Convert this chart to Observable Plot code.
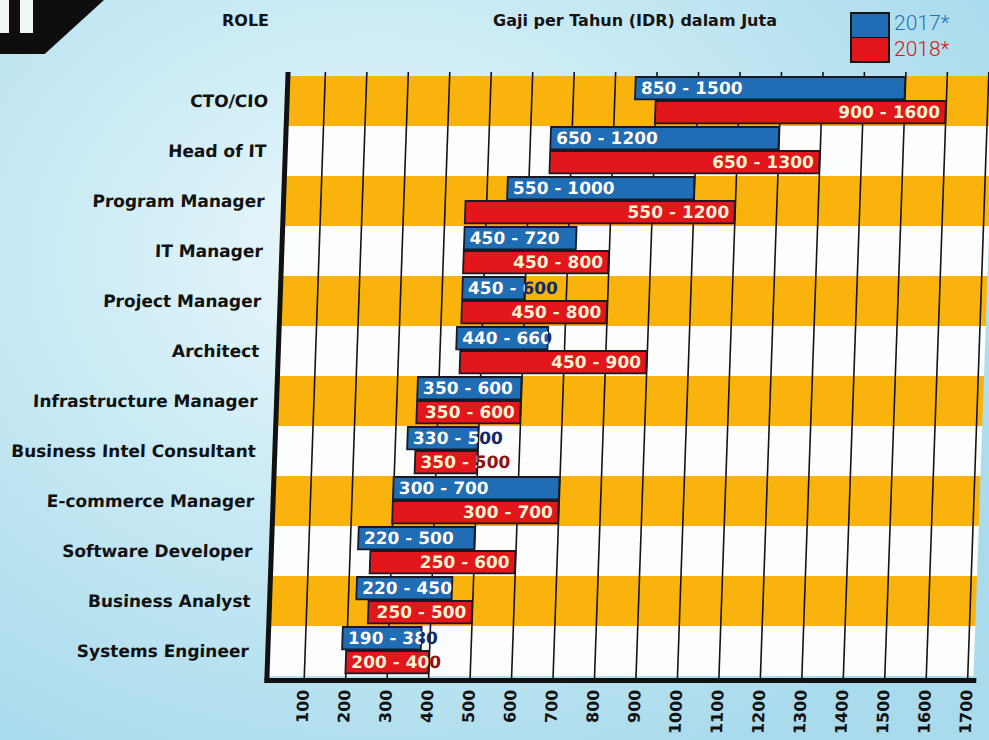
<!DOCTYPE html>
<html>
<head>
<meta charset="utf-8">
<script src="https://cdn.jsdelivr.net/npm/d3@7"></script>
<script src="https://cdn.jsdelivr.net/npm/@observablehq/plot@0.6"></script>
<style>
  html, body { margin: 0; padding: 0; }
  body {
    width: 989px; height: 740px; overflow: hidden; position: relative;
    background: radial-gradient(ellipse 70% 75% at 38% 35%, #eef9fc 0%, #cbebf5 45%, #aadbec 100%);
    font-family: "DejaVu Sans", sans-serif;
  }
  #tab { position: absolute; left: 0; top: 0; width: 104px; height: 54px; background: #0e0e0e;
         clip-path: polygon(0 0, 100% 0, 43% 100%, 0 100%); }
  .stripe { position: absolute; top: 0; height: 33px; background: #f3f6f6; }
  .head { position: absolute; top: 13px; font-weight: bold; font-size: 16px; line-height: 16px; color: #141414; white-space: nowrap; }
  #legendBox { position: absolute; left: 850px; top: 12px; width: 36px; height: 47px; border: 2px solid #151515; }
  #legendBox .b { height: 23px; background: #1f6db5; border-bottom: 1px solid #151515; }
  #legendBox .r { height: 23px; background: #e2161b; }
  .leg { position: absolute; left: 894px; font-family: Roboto, sans-serif; font-weight: 300; font-size: 21px; line-height: 21px; white-space: nowrap; }
  /* the source is a photograph of a print with a slight skew; mimic it */
  #chart { position: absolute; left: 0; top: 70px; transform: skewX(-2deg); transform-origin: 0 305px; }
</style>
</head>
<body>
<div id="tab"></div>
<div class="stripe" style="left:0;width:9px"></div>
<div class="stripe" style="left:20px;width:13px"></div>
<div class="head" style="left:222px">ROLE</div>
<div class="head" style="left:493px">Gaji per Tahun (IDR) dalam Juta</div>
<div id="legendBox"><div class="b"></div><div class="r"></div></div>
<div class="leg" style="top:13px;color:#2373b8">2017*</div>
<div class="leg" style="top:39px;color:#d81418">2018*</div>
<div id="chart"></div>
<script>
// ---- data ----
const roles = ["CTO/CIO", "Head of IT", "Program Manager", "IT Manager", "Project Manager", "Architect",
  "Infrastructure Manager", "Business Intel Consultant", "E-commerce Manager", "Software Developer",
  "Business Analyst", "Systems Engineer"];
const min2017 = [850, 650, 550, 450, 450, 440, 350, 330, 300, 220, 220, 190];
const max2017 = [1500, 1200, 1000, 720, 600, 660, 600, 500, 700, 500, 450, 380];
// drawn bar extents for 2018 (Program Manager bar is drawn ~450-1100 in the source)
const min2018 = [900, 650, 450, 450, 450, 450, 350, 350, 300, 250, 250, 200];
const max2018 = [1600, 1300, 1100, 800, 800, 900, 600, 500, 700, 600, 500, 400];
const label2017 = ["850 - 1500", "650 - 1200", "550 - 1000", "450 - 720", "450 - 600", "440 - 660",
  "350 - 600", "330 - 500", "300 - 700", "220 - 500", "220 - 450", "190 - 380"];
const label2018 = ["900 - 1600", "650 - 1300", "550 - 1200", "450 - 800", "450 - 800", "450 - 900",
  "350 - 600", "350 - 500", "300 - 700", "250 - 600", "250 - 500", "200 - 400"];
const xTicks = [100, 200, 300, 400, 500, 600, 700, 800, 900, 1000, 1100, 1200, 1300, 1400, 1500, 1600, 1700];

// ---- layout / style ----
const W = 989, H = 670, mL = 277, mR = 5, mT = 2, mB = 60;
const xDomain = [10, 1715];
const rowColors = ["#f9b30c", "#fcfefe"];
const blue = "#1f6db5", red = "#e2161b", outline = "#1a1a24";
const bandH = (H - mT - mB) / roles.length;
const barH = 23, blueTop = 1, redTop = 25;
const fitMin = 220;
const fontFam = "DejaVu Sans";

const bars2017 = roles.map((role, i) => ({role, lo: min2017[i], hi: max2017[i], label: label2017[i]}));
const bars2018 = roles.map((role, i) => ({role, lo: min2018[i], hi: max2018[i], label: label2018[i]}));
const wide2018 = bars2018.filter(d => d.hi - d.lo >= fitMin);
const narrow2018 = bars2018.filter(d => d.hi - d.lo < fitMin);

const dyBlue = blueTop + barH / 2 - bandH / 2;
const dyRed = redTop + barH / 2 - bandH / 2;

function labelMarks(fillBlue, fillRed) {
  const common = {y: "role", text: "label", fontSize: 17, fontWeight: "bold", fontFamily: fontFam};
  return [
    Plot.text(bars2017, {...common, x: "lo", textAnchor: "start", dx: 5, dy: dyBlue, fill: fillBlue}),
    Plot.text(wide2018, {...common, x: "hi", textAnchor: "end", dx: -6, dy: dyRed, fill: fillRed}),
    Plot.text(narrow2018, {...common, x: "lo", textAnchor: "start", dx: 5, dy: dyRed, fill: fillRed})
  ];
}

const chart = Plot.plot({
  width: W, height: H, marginLeft: mL, marginRight: mR, marginTop: mT, marginBottom: mB,
  style: {background: "transparent", fontFamily: fontFam},
  x: {domain: xDomain},
  y: {domain: roles, padding: 0},
  marks: [
    Plot.barX(roles, {x1: xDomain[0], x2: xDomain[1], y: d => d, fill: (d, i) => rowColors[i % 2]}),
    Plot.ruleX(xTicks, {stroke: "#141414", strokeWidth: 1.6}),
    Plot.barX(bars2017, {x1: "lo", x2: "hi", y: "role", fill: blue, stroke: outline, strokeWidth: 1.8,
      insetTop: blueTop, insetBottom: bandH - blueTop - barH}),
    Plot.barX(bars2018, {x1: "lo", x2: "hi", y: "role", fill: red, stroke: outline, strokeWidth: 1.8,
      insetTop: redTop, insetBottom: bandH - redTop - barH}),
    ...labelMarks("#0e2a6b", "#8e1010"),
    ...labelMarks("#ffffff", "#fff2cf"),
    Plot.ruleX([xDomain[0]], {stroke: "#111", strokeWidth: 5}),
    Plot.frame({anchor: "bottom", stroke: "#111", strokeWidth: 5}),
    Plot.axisX(xTicks, {tickRotate: -90, tickSize: 0, tickPadding: 9, tickFormat: "d", fontSize: 16,
      fontWeight: "bold", fill: "#111", label: null}),
    Plot.axisY({tickSize: 0, tickPadding: 19, fontSize: 17, fontWeight: "bold", fill: "#111", label: null})
  ]
});
document.getElementById("chart").appendChild(chart);

// clip the light labels to their bars, so overflowing parts show the dark copy underneath
(function clipLabels() {
  const ns = "http://www.w3.org/2000/svg";
  let xs = d3.scaleLinear(xDomain, [mL, W - mR]);
  let ys = d3.scaleBand(roles, [mT, H - mB]);
  try {
    const px = chart.scale("x"), py = chart.scale("y");
    if (px && px.apply) xs = v => px.apply(v);
    if (py && py.apply) ys = v => py.apply(v);
  } catch (e) {}
  let defs = chart.querySelector("defs");
  if (!defs) { defs = document.createElementNS(ns, "defs"); chart.insertBefore(defs, chart.firstChild); }
  // text-mark groups in order: dark 2017, dark 2018 wide, dark 2018 narrow, light 2017, light 2018 wide, light 2018 narrow
  const textGroups = Array.from(chart.children).filter(g => g.getAttribute("aria-label") === "text");
  const light = textGroups.slice(3);
  const specs = [[bars2017, blueTop], [wide2018, redTop], [narrow2018, redTop]];
  light.forEach((g, k) => {
    const [bars, top] = specs[k];
    const id = "clip-light-" + k;
    const cp = document.createElementNS(ns, "clipPath");
    cp.setAttribute("id", id);
    bars.forEach(d => {
      const r = document.createElementNS(ns, "rect");
      const x0 = xs(d.lo), x1 = xs(d.hi);
      r.setAttribute("x", x0); r.setAttribute("width", x1 - x0);
      r.setAttribute("y", ys(d.role) + top); r.setAttribute("height", barH);
      cp.appendChild(r);
    });
    defs.appendChild(cp);
    const wrap = document.createElementNS(ns, "g");
    wrap.setAttribute("clip-path", `url(#${id})`);
    g.parentNode.insertBefore(wrap, g);
    wrap.appendChild(g);
  });
})();
</script>
</body>
</html>
